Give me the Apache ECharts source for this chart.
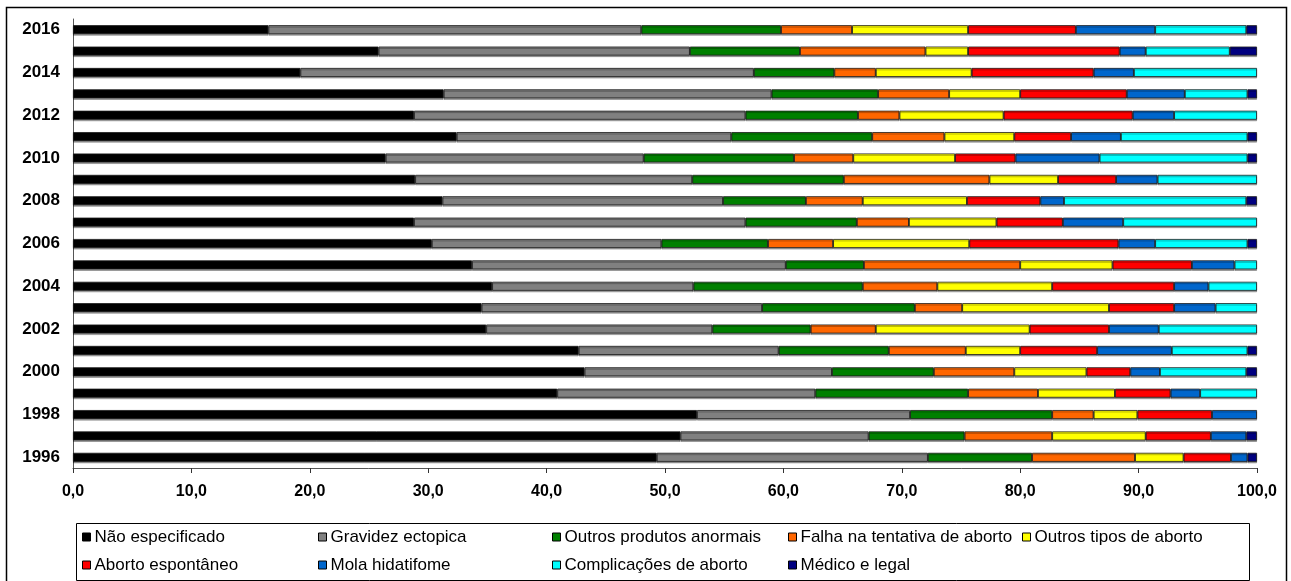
<!DOCTYPE html>
<html>
<head>
<meta charset="utf-8">
<script src="https://cdn.jsdelivr.net/npm/echarts@6/dist/echarts.min.js"></script>
<style>
html,body{margin:0;padding:0;background:#fff;}
#c{width:1291px;height:581px;}
</style>
</head>
<body>
<div id="c"></div>
<script>
// Categories (bottom to top)
const years = ['1996','1997','1998','1999','2000','2001','2002','2003','2004','2005','2006','2007','2008','2009','2010','2011','2012','2013','2014','2015','2016'];

const seriesNames = ['Não especificado','Gravidez ectopica','Outros produtos anormais','Falha na tentativa de aborto','Outros tipos de aborto','Aborto espontâneo','Mola hidatifome','Complicações de aborto','Médico e legal'];
const seriesColors = ['#000000','#808080','#008000','#FF6600','#FFFF00','#FF0000','#0066CC','#00FFFF','#000080'];

// Values per series, 1996..2016 (percent)
const naoEspecificado   = [49.3,51.3,52.7,40.9,43.2,42.7,34.9,34.5,35.4,33.7,30.3,28.8,31.2,28.9,26.4,32.4,28.8,31.3,19.2,25.8,16.5];
const gravidezEctopica  = [22.9,15.9,18.0,21.8,20.9,16.9,19.1,23.7,17.0,26.5,19.4,28.0,23.7,23.4,21.8,23.2,28.0,27.7,38.3,26.3,31.5];
const outrosProdutos    = [8.8,8.1,12.0,12.9,8.6,9.3,8.3,12.9,14.3,6.6,9.0,9.4,7.0,12.8,12.7,11.9,9.5,9.0,6.8,9.3,11.8];
const falhaTentativa    = [8.7,7.4,3.5,5.9,6.8,6.5,5.5,4.0,6.3,13.2,5.5,4.4,4.8,12.3,5.0,6.1,3.5,6.0,3.5,10.6,6.0];
const outrosTipos       = [4.1,7.9,3.7,6.5,6.1,4.6,13.0,12.4,9.7,7.8,11.5,7.4,8.8,5.8,8.6,5.9,8.8,6.0,8.1,3.6,9.8];
const abortoEspontaneo  = [4.0,5.5,6.3,4.7,3.7,6.5,6.7,5.5,10.3,6.7,12.6,5.6,6.2,4.9,5.1,4.8,10.9,9.0,10.3,12.8,9.1];
const molaHidatiforme   = [1.4,3.0,3.8,2.5,2.5,6.3,4.2,3.5,2.9,3.6,3.1,5.1,2.0,3.5,7.1,4.2,3.5,4.9,3.4,2.2,6.7];
const complicacoes      = [0,0,0,4.8,7.3,6.4,8.3,3.5,4.1,1.9,7.8,11.3,15.4,8.4,12.5,10.7,7.0,5.3,10.4,7.1,7.7];
const medicoLegal       = [0.8,0.9,0,0,0.9,0.8,0,0,0,0,0.8,0,0.9,0,0.8,0.8,0,0.8,0,2.3,0.9];

const xTicks = [0,10,20,30,40,50,60,70,80,90,100];

const allData = [naoEspecificado,gravidezEctopica,outrosProdutos,falhaTentativa,outrosTipos,abortoEspontaneo,molaHidatiforme,complicacoes,medicoLegal];

const chart = echarts.init(document.getElementById('c'), null, {renderer:'canvas'});

const series = allData.map((d,i)=>({
  name: seriesNames[i],
  type: 'bar',
  stack: 'total',
  barWidth: 9,
  data: d.map(v => v === 0 ? '-' : v),
  itemStyle: {
    color: seriesColors[i],
    borderColor: '#1a1a1a',
    borderWidth: 0.8,
    shadowColor: 'rgba(0,0,0,0.35)',
    shadowOffsetY: 1.5,
    shadowBlur: 0
  },
  emphasis: {disabled: true},
  animation: false
}));

// legend columns (grid layout like the reference)
const legendCols = [
  {left: 82,  items: [seriesNames[0], seriesNames[5]]},
  {left: 318, items: [seriesNames[1], seriesNames[6]]},
  {left: 552, items: [seriesNames[2], seriesNames[7]]},
  {left: 788, items: [seriesNames[3], seriesNames[8]]},
  {left: 1022, items: [seriesNames[4]]}
];

const legends = legendCols.map(c => ({
  left: c.left,
  top: 528,
  orient: 'vertical',
  data: c.items,
  icon: 'rect',
  itemWidth: 8,
  itemHeight: 8,
  itemGap: 10,
  padding: 0,
  selectedMode: false,
  itemStyle: {borderColor: '#000', borderWidth: 1, shadowBlur: 0, shadowOffsetY: 0},
  textStyle: {fontFamily: 'Liberation Sans, Arial, sans-serif', fontSize: 17, color: '#000', padding: [0,0,0,-1], lineHeight: 18}
}));

chart.setOption({
  animation: false,
  backgroundColor: '#fff',
  graphic: [
    {type:'rect', shape:{x:6.5, y:7.5, width:1280, height:590}, style:{fill:'none', stroke:'#000', lineWidth:1.5}, silent:true, z:-1},
    {type:'rect', shape:{x:76.5, y:523.5, width:1173, height:57}, style:{fill:'none', stroke:'#000', lineWidth:1}, silent:true, z:-1}
  ],
  legend: legends,
  grid: {left: 73, right: 34, top: 19, bottom: 113, containLabel: false},
  xAxis: {
    type: 'value',
    min: xTicks[0],
    max: xTicks[xTicks.length-1],
    interval: 10,
    axisLine: {show: true, lineStyle: {color: '#555', width: 1}},
    axisTick: {show: true, length: 5, lineStyle: {color: '#333'}},
    splitLine: {show: false},
    axisLabel: {
      margin: 16,
      fontFamily: 'Liberation Sans, Arial, sans-serif',
      fontSize: 16,
      fontWeight: 'bold',
      color: '#000',
      formatter: v => v.toFixed(1).replace('.', ',')
    }
  },
  yAxis: {
    type: 'category',
    data: years,
    axisLine: {show: true, lineStyle: {color: '#555', width: 1}},
    axisTick: {show: false},
    splitLine: {show: false},
    axisLabel: {
      interval: 1,
      margin: 13,
      fontFamily: 'Liberation Sans, Arial, sans-serif',
      fontSize: 17,
      fontWeight: 'bold',
      color: '#000'
    }
  },
  series: series
});
</script>
</body>
</html>
